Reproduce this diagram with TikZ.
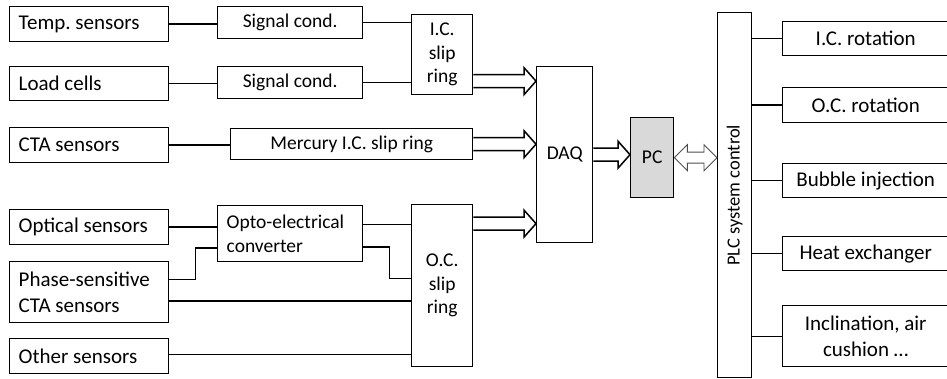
\documentclass[tikz,border=0pt]{standalone}
\usepackage{fontspec}
\setmainfont{Carlito}
\usetikzlibrary{calc}
\frenchspacing
\tikzset{
  base/.style={draw, line width=1.4pt, inner sep=0pt, anchor=north west, font=\fontsize{21}{25.5}\selectfont},
  lbox/.style n args={3}{base, minimum width=#1, minimum height=#2, inner xsep=9pt, text width=#3, align=flush left},
  cbox/.style 2 args={base, minimum width=#1, minimum height=#2, align=center},
  small/.style={font=\fontsize{19.5}{23.5}\selectfont},
  wire/.style={line width=1.4pt},
  fatarr/.style={line width=1.5pt, line join=miter},
  duplex/.style={line width=0.9pt, draw=black!70, line join=miter},
}
\newcommand\FatArrow[2]{\draw[fatarr] let \p1=(#1),\p2=(#2) in
  (\x1,\y1+6.5pt) -- (\x2-12pt,\y1+6.5pt) -- (\x2-12pt,\y1+13.5pt) -- (\x2,\y1)
  -- (\x2-12pt,\y1-13.5pt) -- (\x2-12pt,\y1-6.5pt) -- (\x1,\y1-6.5pt);}
\newcommand\DuplexArrow[2]{\draw[duplex] let \p1=(#1),\p2=(#2) in
  (\x1,\y1) -- (\x1+13pt,\y1+13pt) -- (\x1+13pt,\y1+5.5pt) -- (\x2-13pt,\y1+5.5pt)
  -- (\x2-13pt,\y1+13pt) -- (\x2,\y1) -- (\x2-13pt,\y1-13pt) -- (\x2-13pt,\y1-5.5pt)
  -- (\x1+13pt,\y1-5.5pt) -- (\x1+13pt,\y1-13pt) -- cycle;}
\begin{document}
\begin{tikzpicture}[x=1pt,y=-1pt]
\useasboundingbox (0,0) rectangle (947,379);
% sensors
\node[lbox={159pt}{35pt}{141pt}] (temp) at (9,6) {Temp. sensors};
\node[lbox={159pt}{34pt}{141pt}] (load) at (9,66) {Load cells};
\node[lbox={159pt}{35pt}{141pt}] (cta) at (9,127) {CTA sensors};
\node[lbox={159pt}{35pt}{141pt}] (optical) at (9,209) {Optical sensors};
\node[lbox={159pt}{61pt}{141pt}] (phase) at (9,261) {Phase-sensitive\\CTA sensors};
\node[lbox={159pt}{35pt}{141pt}] (other) at (9,338) {Other sensors};
% conditioning
\node[cbox={145pt}{32pt}, small] (sig1) at (217,6) {Signal cond.};
\node[cbox={145pt}{32pt}, small] (sig2) at (217,66) {Signal cond.};
\node[cbox={242pt}{31pt}, small] (merc) at (230,128) {Mercury I.C. slip ring};
\node[lbox={145pt}{56pt}{127pt}, small] (opto) at (217,205) {Opto-electrical\\converter};
% slip rings
\node[cbox={61pt}{80pt}, small] (icsr) at (411,14) {I.C.\\slip\\ring};
\node[cbox={61pt}{162pt}, small] (ocsr) at (411,204) {O.C.\\slip\\ring};
% DAQ, PC, PLC
\node[cbox={56pt}{176pt}, small] (daq) at (536,66) {DAQ};
\node[cbox={43pt}{80pt}, small, fill=gray!30] (pc) at (630,117) {PC};
\node[cbox={34pt}{365pt}, label={[rotate=90, font=\fontsize{18.5}{22}\selectfont]center:PLC system control}] (plc) at (717,12) {};
% actuators
\node[cbox={166pt}{34pt}] (icrot) at (782,21) {I.C. rotation};
\node[cbox={166pt}{35pt}] (ocrot) at (782,87) {O.C. rotation};
\node[cbox={166pt}{34pt}] (bubble) at (782,163) {Bubble injection};
\node[cbox={166pt}{34pt}] (heat) at (782,236) {Heat exchanger};
\node[cbox={166pt}{61pt}] (incl) at (782,305) {Inclination, air\\cushion …};
% wires
\draw[wire] (temp.east) -- (temp.east -| sig1.west);
\draw[wire] (load.east) -- (load.east -| sig2.west);
\draw[wire] (cta.east) -- (cta.east -| merc.west);
\draw[wire] (sig1.east) -- (sig1.east -| icsr.west);
\draw[wire] (sig2.east) -- (sig2.east -| icsr.west);
\draw[wire] (optical.east) -- (optical.east -| opto.west);
\coordinate (ph1) at ($(phase.north east)!0.3!(phase.south east)$);
\coordinate (ph2) at ($(phase.north east)!0.64!(phase.south east)$);
\coordinate (op1) at ($(opto.north west)!0.75!(opto.south west)$);
\coordinate (op2) at ($(opto.north east)!0.34!(opto.south east)$);
\coordinate (op3) at ($(opto.north east)!0.73!(opto.south east)$);
\coordinate (oc3) at ($(ocsr.north west)!0.455!(ocsr.south west)$);
\coordinate (ot1) at ($(other.east)+(0,-2)$);
\draw[wire] (ph1) -- ++(26,0) |- (op1);
\draw[wire] (ph2) -- (ph2 -| ocsr.west);
\draw[wire] (ot1) -- (ot1 -| ocsr.west);
\draw[wire] (op2) -- (op2 -| ocsr.west);
\draw[wire] (op3) -- ++(26,0) |- (oc3);
\draw[wire] (plc.east |- icrot.west) -- (icrot.west);
\draw[wire] (plc.east |- ocrot.west) -- (ocrot.west);
\draw[wire] (plc.east |- bubble.west) -- (bubble.west);
\draw[wire] (plc.east |- heat.west) -- (heat.west);
\draw[wire] (plc.east |- incl.west) -- (incl.west);
% fat arrows
\coordinate (ic1) at ($(icsr.north east)!0.825!(icsr.south east)$);
\coordinate (oc1) at ($(ocsr.north east)!0.12!(ocsr.south east)$);
\FatArrow{ic1}{daq.west}
\FatArrow{merc.east}{daq.west}
\FatArrow{oc1}{daq.west}
\FatArrow{daq.east}{pc.west}
\DuplexArrow{pc.east}{plc.west}
\end{tikzpicture}
\end{document}
